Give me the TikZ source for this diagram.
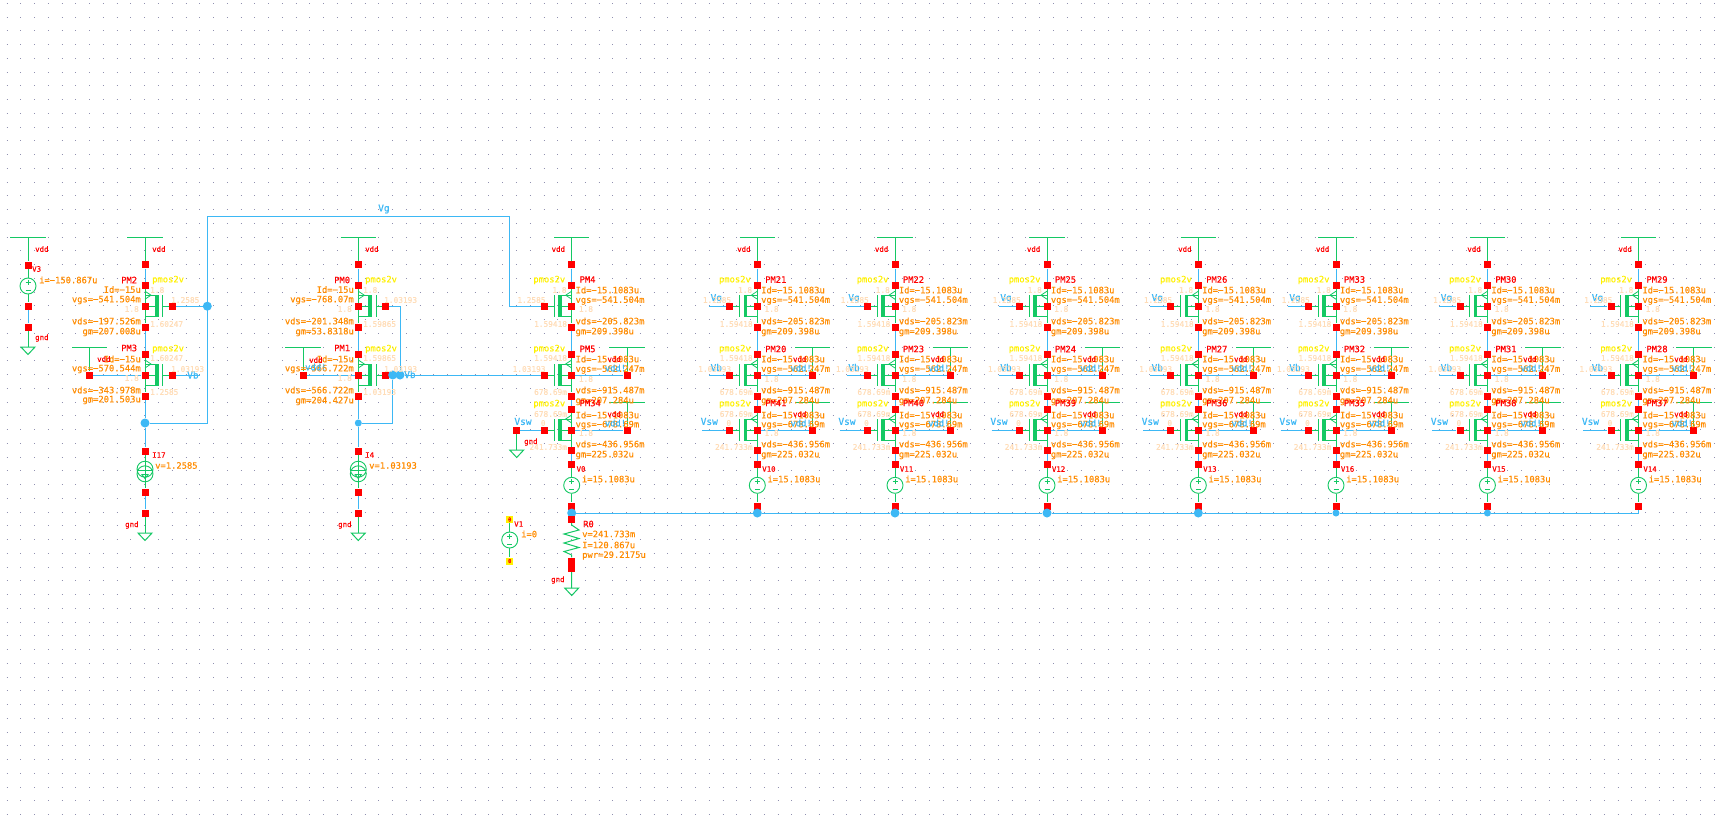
\documentclass[tikz,border=0pt]{standalone}
\usepackage{fontspec}
\setmainfont[FakeBold=0.4]{DejaVu Sans Mono}
\definecolor{wgreen}{HTML}{14C864}
\definecolor{wblue}{HTML}{3DB8F5}
\definecolor{tor}{HTML}{FF8C00}
\definecolor{peach}{HTML}{FFDDB8}
\definecolor{griddot}{HTML}{9090B0}
\pgfdeclarelayer{gridl}
\pgfdeclarelayer{wires}
\pgfsetlayers{gridl,wires,main}
\newcount\labn
\tikzset{
  pin/.style={rectangle,fill=red,draw=none,minimum size=7pt,inner sep=0pt},
  ypin/.style={rectangle,fill=yellow,draw=none,minimum size=7pt,inner sep=0pt,text=red,font=\fontsize{5.5}{6}\selectfont},
  junc/.style={circle,fill=wblue,draw=none,minimum size=9pt,inner sep=0pt},
  bw/.style={draw=wblue,line width=1pt},
  gw/.style={draw=wgreen,line width=1pt},
  srcv/.style={circle,draw=wgreen,fill=white,line width=.9pt,minimum size=16pt,inner sep=0pt},
  srci/.style={circle,draw=none,minimum size=20pt,inner sep=0pt},
  tname/.style={text=red,inner sep=0pt,font=\fontsize{8.8}{9}\selectfont},
  tsmall/.style={text=red,inner sep=0pt,font=\fontsize{7.4}{8}\selectfont},
  tval/.style={text=tor,inner sep=0pt,font=\fontsize{8.8}{9}\selectfont},
  tcell/.style={text=yellow,inner sep=0pt,font=\fontsize{8.8}{9}\selectfont},
  tnet/.style={text=peach,inner sep=0pt,font=\fontsize{7.8}{8}\selectfont},
  tblue/.style={text=wblue,inner sep=0pt,font=\fontsize{9.5}{10}\selectfont},
  tblues/.style={text=wblue,inner sep=0pt,font=\fontsize{8.8}{9}\selectfont},
}
\newcommand\lab[5]{\global\advance\labn by 1 \node[#1,anchor=#2] (t\the\labn) at (#3,#4) {#5};}
\newcommand\bwire[1]{\begin{pgfonlayer}{wires}\draw[bw] #1;\end{pgfonlayer}}
\newcommand\gwire[1]{\begin{pgfonlayer}{wires}\draw[gw] #1;\end{pgfonlayer}}
% bar: name, x, y, half-offset centre
\newcommand\vbar[3]{\coordinate (#1) at ({#2},#3);
  \gwire{({#2-17.7},#3) -- ({#2+17.7},#3)}}
\newcommand\gndsym[3]{\coordinate (#1) at (#2,#3);
  \gwire{({#2-7},#3) -- ({#2+7},#3) -- (#2,{#3+7.5}) -- cycle}}
% voltage source
\newcommand\vsrc[3]{\node[srcv] (#1) at (#2,#3) {};
  \draw[wgreen,line width=.9pt] (#2,{#3-6.5}) -- (#2,{#3-1.5}) ({#2-2.5},{#3-4}) -- ({#2+2.5},{#3-4}) ({#2-2.5},{#3+4}) -- ({#2+2.5},{#3+4});}
% current source
\newcommand\isrc[3]{\node[srci] (#1) at (#2,#3) {};
  \draw[wgreen,line width=.9pt] (#2,{#3-2.3}) circle[radius=8] (#2,{#3+2.3}) circle[radius=8]
    ({#2-8},{#3-1}) -- ({#2+8},{#3-1}) ({#2-3},{#3+3}) -- ({#2+3},{#3+3}) -- (#2,{#3+7}) -- cycle;}
% transistor symbol: stem x, gate y, side (+1 gate right, -1 gate left)
\newcommand\mossym[3]{\begin{pgfonlayer}{wires}
  \draw[gw] (#1,{#2-10.5}) -- ({#1+#3*11},{#2-10.5});
  \draw[gw] (#1,{#2+10.5}) -- ({#1+#3*11},{#2+10.5});
  \draw[gw] (#1,#2) -- ({#1+#3*11},#2);
  \draw[gw] ({#1+#3*17.7},#2) -- ({#1+#3*27},#2);
  \draw[gw] ({#1+#3*17.7},{#2-11}) -- ({#1+#3*17.7},{#2+11});
  \fill[wgreen] ({#1+#3*10},{#2-11}) rectangle ({#1+#3*13.6},{#2+11});
  \draw[gw,line width=.8pt] (#1,{#2-15}) -- ({#1+#3*6},{#2-11}) -- (#1,{#2-7});
  \end{pgfonlayer}}
% left-gate column: prefix, stem x
\newcommand\leftcol[2]{%
  \vbar{#1top}{#2}{237.3}
  \node[pin] (#1a) at (#2,264.8) {};
  \node[pin] (#1b) at (#2,285.4) {};
  \node[pin] (#1ga) at ({#2-27.4},306.2) {};
  \node[pin] (#1ma) at (#2,306.2) {};
  \node[pin] (#1c) at (#2,327) {};
  \node[pin] (#1d) at (#2,354.3) {};
  \node[pin] (#1gb) at ({#2-27.4},375) {};
  \node[pin] (#1mb) at (#2,375) {};
  \node[pin] (#1e) at (#2,396) {};
  \node[pin] (#1f) at (#2,409.3) {};
  \node[pin] (#1gc) at ({#2-27.4},430) {};
  \node[pin] (#1mc) at (#2,430) {};
  \node[pin] (#1h) at (#2,450.6) {};
  \node[pin] (#1i) at (#2,464.3) {};
  \node[pin] (#1j) at (#2,506) {};
  \vsrc{#1s}{#2}{485.3}
  \vbar{#1vb}{#2+55.4}{347}
  \vbar{#1vc}{#2+55.4}{402}
  \node[pin] (#1pb) at ({#2+55.4},375) {};
  \node[pin] (#1pc) at ({#2+55.4},430) {};
  \mossym{#2}{306.2}{-1}\mossym{#2}{375}{-1}\mossym{#2}{430}{-1}
  \gwire{(#1top) -- (#1a)}
  \bwire{(#1a) -- (#1b)}
  \gwire{(#1b) -- (#1c)}
  \bwire{(#1c) -- (#1d)}
  \gwire{(#1d) -- (#1e)}
  \bwire{(#1e) -- (#1f)}
  \gwire{(#1f) -- (#1h)}
  \bwire{(#1h) -- (#1i)}
  \gwire{(#1i) -- (#1s) (#1s) -- (#1j)}
  \gwire{(#1vb) -- (#1pb) (#1vc) -- (#1pc)}
  \bwire{(#1mb) -- (#1pb) (#1mc) -- (#1pc)}
}
\newcommand\leftlabels[5]{%
  \lab{tsmall}{east}{{#1-6.5}}{249}{vdd}
  \lab{tcell}{west}{{#1-38.5}}{280}{pmos2v}
  \lab{tcell}{west}{{#1-38.5}}{349}{pmos2v}
  \lab{tcell}{west}{{#1-38.5}}{404}{pmos2v}
  \lab{tnet}{east}{{#1-5}}{290}{1.8}
  \lab{tnet}{west}{{#1+7}}{309}{1.8}
  \lab{tnet}{east}{{#1-26}}{300}{1.2585}
  \lab{tnet}{east}{{#1-4.5}}{324}{1.59418}
  \lab{tnet}{east}{{#1-4.5}}{358}{1.59418}
  \lab{tnet}{east}{{#1-26}}{369}{1.03193}
  \lab{tnet}{west}{{#1+7}}{379}{1.8}
  \lab{tnet}{east}{{#1-4.5}}{392}{678.69m}
  \lab{tnet}{east}{{#1-4.5}}{414}{678.69m}
  \lab{tnet}{east}{{#1-26}}{423}{0}
  \lab{tnet}{west}{{#1+7}}{433}{1.8}
  \lab{tnet}{east}{{#1-4.5}}{447}{241.733m}
  \lab{tval}{west}{{#1+3.7}}{290}{Id=−15.1083u}
  \lab{tval}{west}{{#1+3.7}}{300.5}{vgs=−541.504m}
  \lab{tval}{west}{{#1+3.7}}{321}{vds=−205.823m}
  \lab{tval}{west}{{#1+3.7}}{332}{gm=209.398u}
  \lab{tval}{west}{{#1+3.7}}{359}{Id=−15.1083u}
  \lab{tval}{west}{{#1+3.7}}{369.5}{vgs=−562.247m}
  \lab{tval}{west}{{#1+3.7}}{390}{vds=−915.487m}
  \lab{tval}{west}{{#1+3.7}}{401}{gm=207.284u}
  \lab{tval}{west}{{#1+3.7}}{415}{Id=−15.1083u}
  \lab{tval}{west}{{#1+3.7}}{425}{vgs=−678.69m}
  \lab{tval}{west}{{#1+3.7}}{444}{vds=−436.956m}
  \lab{tval}{west}{{#1+3.7}}{455}{gm=225.032u}
  \lab{tval}{west}{{#1+10}}{479}{i=15.1083u}
  \lab{tblues}{west}{{#1+33}}{368}{vdd!}
  \lab{tblues}{west}{{#1+33}}{423}{vdd!}
  \lab{tsmall}{west}{{#1+35.5}}{359}{vdd}
  \lab{tsmall}{west}{{#1+35.5}}{414}{vdd}
  \lab{tname}{west}{{#1+7.7}}{279.5}{#2}
  \lab{tname}{west}{{#1+7.7}}{349}{#3}
  \lab{tname}{west}{{#1+7.7}}{403}{#4}
  \lab{tsmall}{west}{{#1+4.7}}{469}{#5}
}
% nets and labels of the columns after the first
\newcommand\netcol[2]{%
  \coordinate (#1wa) at ({#2-48.3},306.2);
  \coordinate (#1wb) at ({#2-48.3},375);
  \coordinate (#1wc) at ({#2-55.3},430);
  \bwire{(#1wa) -- (#1ga) (#1wb) -- (#1gb) (#1wc) -- (#1gc)}
  \lab{tblue}{center}{{#2-41}}{298.5}{Vg}
  \lab{tblue}{center}{{#2-41}}{367.5}{Vb}
  \lab{tblue}{center}{{#2-48}}{421.5}{Vsw}
}
% right-gate column: prefix, stem x
\newcommand\rightcol[2]{%
  \vbar{#1top}{#2}{237.3}
  \node[pin] (#1a) at (#2,264.8) {};
  \node[pin] (#1b) at (#2,285.4) {};
  \node[pin] (#1ma) at (#2,306.2) {};
  \node[pin] (#1ga) at ({#2+27.4},306.2) {};
  \node[pin] (#1c) at (#2,327) {};
  \node[pin] (#1d) at (#2,354.3) {};
  \node[pin] (#1mb) at (#2,375) {};
  \node[pin] (#1gb) at ({#2+27.4},375) {};
  \node[pin] (#1e) at (#2,396) {};
  \vbar{#1vb}{#2-55.3}{347}
  \node[pin] (#1pb) at ({#2-55.3},375) {};
  \node[pin] (#1k) at (#2,451) {};
  \node[pin] (#1l) at (#2,492) {};
  \node[pin] (#1n) at (#2,513) {};
  \isrc{#1s}{#2}{471.5}
  \gndsym{#1g}{#2}{533}
  \mossym{#2}{306.2}{1}\mossym{#2}{375}{1}
  \gwire{(#1top) -- (#1a)}
  \bwire{(#1a) -- (#1b)}
  \gwire{(#1b) -- (#1c)}
  \bwire{(#1c) -- (#1d)}
  \gwire{(#1d) -- (#1e)}
  \gwire{(#1vb) -- (#1pb)}
  \bwire{(#1mb) -- (#1pb)}
  \gwire{(#1k) -- (#1l)}
  \bwire{(#1l) -- (#1n)}
  \gwire{(#1n) -- (#1g)}
}
\begin{document}
\begin{tikzpicture}[x=1pt,y=-1pt]
\useasboundingbox (0,0) rectangle (1721,825);
\begin{pgfonlayer}{gridl}
\fill[white] (0,0) rectangle (1721,825);
\foreach \j in {0,...,59} {
  \draw[griddot,line width=1pt,dash pattern=on 1pt off 12.77pt] (6.5,{3.3+13.75*\j}) -- (1719,{3.3+13.75*\j});
}
\end{pgfonlayer}

% V3
\vbar{vtop}{28}{237.3}
\node[pin] (va) at (28,265) {};
\vsrc{vs}{28}{286}
\node[pin] (vb) at (28,306) {};
\node[pin] (vc) at (28,327) {};
\gndsym{vg}{28}{347}
\gwire{(vtop) -- (va) (va) -- (vs) (vs) -- (vb) (vc) -- (vg)}
\bwire{(vb) -- (vc)}
\lab{tsmall}{west}{35}{249}{vdd}
\lab{tsmall}{west}{32}{269}{V3}
\lab{tval}{west}{39}{280}{i=−150.867u}
\lab{tsmall}{west}{35}{338}{gnd}

% PM2 / PM3 / I17
\rightcol{p}{145}
\node[junc] (pj) at (145,423) {};
\node[junc] (vgj) at (207.3,306.2) {};
\coordinate (pcor) at (207.3,423);
\coordinate (vgc1) at (207.3,216);
\coordinate (vgc2) at (509.4,216);
\coordinate (vbe) at (200,375);
\bwire{(pe) -- (pj) (pj) -- (pk) (pj) -- (pcor) -- (vgc1) -- (vgc2)}
\bwire{(pga) -- (vgj) (pgb) -- (vbe)}
\lab{tsmall}{west}{152}{249}{vdd}
\lab{tname}{west}{121}{280}{PM2}
\lab{tname}{west}{121}{348}{PM3}
\lab{tcell}{west}{152}{280}{pmos2v}
\lab{tcell}{west}{152}{349}{pmos2v}
\lab{tnet}{west}{150}{290}{1.8}
\lab{tnet}{east}{139}{309}{1.8}
\lab{tnet}{west}{171}{300}{1.2585}
\lab{tnet}{west}{150}{324}{1.60247}
\lab{tnet}{west}{150}{358}{1.60247}
\lab{tnet}{west}{171}{369}{1.03193}
\lab{tnet}{east}{139}{378}{1.8}
\lab{tnet}{west}{150}{392}{1.2585}
\lab{tval}{east}{141}{289.5}{Id=−15u}
\lab{tval}{east}{141}{300}{vgs=−541.504m}
\lab{tval}{east}{141}{321}{vds=−197.526m}
\lab{tval}{east}{141}{332}{gm=207.008u}
\lab{tval}{east}{141}{359}{Id=−15u}
\lab{tval}{east}{141}{369}{vgs=−570.544m}
\lab{tval}{east}{141}{390}{vds=−343.978m}
\lab{tval}{east}{141}{400}{gm=201.503u}
\lab{tsmall}{west}{97}{359}{vdd}
\lab{tblue}{west}{187}{375}{Vb}
\lab{tsmall}{west}{152}{455}{I17}
\lab{tval}{west}{155}{465.5}{v=1.2585}
\lab{tsmall}{west}{125}{525}{gnd}

% PM0 / PM1 / I4
\rightcol{q}{358.3}
\node[junc,minimum size=7pt] (qj) at (358.3,423) {};
\node[junc] (vbja) at (392.7,375) {};
\node[junc] (vbjb) at (400,375) {};
\coordinate (qcor) at (392.7,423);
\coordinate (qgc) at (400,306.2);
\bwire{(qe) -- (qj) (qj) -- (qk) (qj) -- (qcor) -- (vbja)}
\bwire{(qga) -- (qgc) -- (vbjb) (qgb) -- (vbja) (vbja) -- (vbjb)}
\lab{tsmall}{west}{365}{249}{vdd}
\lab{tname}{west}{334}{280}{PM0}
\lab{tname}{west}{334}{348}{PM1}
\lab{tcell}{west}{365}{280}{pmos2v}
\lab{tcell}{west}{365}{349}{pmos2v}
\lab{tnet}{west}{363}{290}{1.8}
\lab{tnet}{east}{352}{309}{1.8}
\lab{tnet}{west}{384}{300}{1.03193}
\lab{tnet}{west}{363}{324}{1.59865}
\lab{tnet}{west}{363}{358}{1.59865}
\lab{tnet}{west}{384}{369}{1.03193}
\lab{tnet}{east}{352}{378}{1.8}
\lab{tnet}{west}{363}{392}{1.03193}
\lab{tval}{east}{354}{289.5}{Id=−15u}
\lab{tval}{east}{354}{300}{vgs=−768.07m}
\lab{tval}{east}{354}{321}{vds=−201.348m}
\lab{tval}{east}{354}{332}{gm=53.8318u}
\lab{tval}{east}{354}{359}{Id=−15u}
\lab{tval}{east}{354}{369}{vgs=−566.722m}
\lab{tval}{east}{354}{390}{vds=−566.722m}
\lab{tval}{east}{354}{401}{gm=204.427u}
\lab{tsmall}{west}{309}{360}{vdd}
\lab{tblues}{west}{305}{367}{vdd!}
\lab{tblue}{west}{404}{374.5}{Vb}
\lab{tblue}{west}{378}{209}{Vg}
\lab{tsmall}{west}{365}{455}{I4}
\lab{tval}{west}{369}{465.5}{v=1.03193}
\lab{tsmall}{west}{338}{525}{gnd}

% columns
\leftcol{ca}{571.7}
\leftcol{cb}{757.3}
\leftcol{cc}{895}
\leftcol{cd}{1047}
\leftcol{ce}{1198.3}
\leftcol{cf}{1336}
\leftcol{cg}{1487.4}
\leftcol{ch}{1638.5}
\netcol{cb}{757.3}
\netcol{cc}{895}
\netcol{cd}{1047}
\netcol{ce}{1198.3}
\netcol{cf}{1336}
\netcol{cg}{1487.4}
\netcol{ch}{1638.5}
\bwire{(vgc2) -- (vgc2 |- caga) -- (caga) (vbjb) -- (cagb)}
\node[pin] (vswp) at (516.7,430) {};
\bwire{(vswp) -- (cagc)}
\gndsym{vswg}{516.7}{450}
\gwire{(vswp) -- (vswg)}
\lab{tblue}{center}{523}{421.5}{Vsw}
\lab{tsmall}{west}{524}{442}{gnd}

% bus
\node[junc] (ban) at (571.7,513) {};
\node[junc] (bbn) at (757.3,513) {};
\node[junc] (bcn) at (895,513) {};
\node[junc] (bdn) at (1047,513) {};
\node[junc] (ben) at (1198.3,513) {};
\node[junc,minimum size=7pt] (bfn) at (1336,513) {};
\node[junc,minimum size=7pt] (bgn) at (1487.4,513) {};
\coordinate (bhn) at (1638.5,513);
\bwire{(ban) -- (bbn) -- (bcn) -- (bdn) -- (ben) -- (bfn) -- (bgn) -- (bhn) -- (chj)}
\bwire{(caj) -- (ban) (cbj) -- (bbn) (ccj) -- (bcn) (cdj) -- (bdn) (cej) -- (ben) (cfj) -- (bfn) (cgj) -- (bgn)}

% R0
\node[pin] (ra) at (571.7,519.4) {};
\node[pin] (rb) at (571.7,561) {};
\node[pin] (rc) at (571.7,568) {};
\gndsym{rg}{571.7}{588}
\bwire{(ban) -- (ra) (rb) -- (rc)}
\gwire{(ra) -- (571.7,525) -- (579,530) -- (564,534) -- (579,538.5) -- (564,543) -- (579,547.5) -- (564,551.5) -- (571.7,555) -- (rb) (rc) -- (rg)}
\lab{tname}{west}{583}{524}{R0}
\lab{tval}{west}{582}{534}{v=241.733m}
\lab{tval}{west}{582}{545}{I=120.867u}
\lab{tval}{west}{582}{555.5}{pwr=29.2175u}
\lab{tsmall}{west}{551}{580}{gnd}

% V1
\node[ypin] (ua) at (509.7,519.5) {0};
\node[ypin] (ub) at (509.7,561) {0};
\vsrc{us}{509.7}{540}
\gwire{(ua) -- (us) (us) -- (ub)}
\lab{tsmall}{west}{514}{524}{V1}
\lab{tval}{west}{521}{534}{i=0}

\leftlabels{571.7}{PM4}{PM5}{PM34}{V0}
\leftlabels{757.3}{PM21}{PM20}{PM41}{V10}
\leftlabels{895}{PM22}{PM23}{PM40}{V11}
\leftlabels{1047}{PM25}{PM24}{PM39}{V12}
\leftlabels{1198.3}{PM26}{PM27}{PM36}{V13}
\leftlabels{1336}{PM33}{PM32}{PM35}{V16}
\leftlabels{1487.4}{PM30}{PM31}{PM38}{V15}
\leftlabels{1638.5}{PM29}{PM28}{PM37}{V14}
\end{tikzpicture}
\end{document}
